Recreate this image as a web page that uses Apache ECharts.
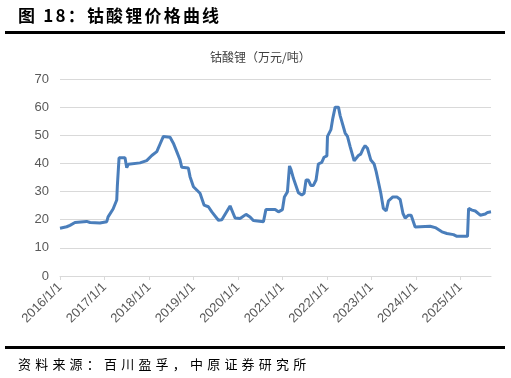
<!DOCTYPE html>
<html lang="zh">
<head>
<meta charset="UTF-8">
<title>钴酸锂价格曲线</title>
<script src="https://cdn.jsdelivr.net/npm/echarts@6/dist/echarts.min.js"></script>
<style>
  html, body { margin: 0; padding: 0; background: #fff; }
  #wrap { position: relative; width: 511px; height: 378px; }
  #main { position: absolute; left: 0; top: 0; width: 511px; height: 378px; }
  .txt { position: absolute; font-family: "Noto Sans CJK SC", sans-serif; color: #000; white-space: nowrap; }
  #head { left: 18px; top: 4px; font-size: 17px; font-weight: bold; letter-spacing: 2.2px; line-height: 22px; }
  #src { left: 18px; top: 355px; font-size: 13px; letter-spacing: 4.2px; line-height: 18px; }
</style>
</head>
<body>
<div id="wrap">
  <div id="main"></div>
  <div class="txt" id="head">图 18：钴酸锂价格曲线</div>
  <div class="txt" id="src">资料来源：百川盈孚，中原证券研究所</div>
</div>
<script type="text/javascript">
// price of lithium cobalt oxide, 万元/吨
var dates = [
  '2016-01-01','2016-02-25','2016-03-23','2016-05-03','2016-08-07','2016-09-04','2016-11-24',
  '2017-01-19','2017-01-30','2017-03-12','2017-04-11','2017-04-16','2017-04-30','2017-06-18',
  '2017-07-02','2017-07-15','2017-10-19','2017-12-13','2018-01-24','2018-03-06','2018-04-02',
  '2018-04-29','2018-06-23','2018-07-20','2018-08-17','2018-09-13','2018-09-27','2018-11-20',
  '2018-12-04','2019-01-01','2019-02-24','2019-03-29','2019-05-04','2019-06-01','2019-07-25',
  '2019-08-22','2019-10-29','2019-12-09','2020-01-19','2020-03-08','2020-04-10','2020-05-07',
  '2020-07-29','2020-08-18','2020-11-02','2020-11-29','2021-01-01','2021-01-17','2021-02-11',
  '2021-02-28','2021-03-13','2021-04-01','2021-05-12','2021-06-09','2021-06-28','2021-07-14',
  '2021-08-02','2021-08-22','2021-09-12','2021-10-04','2021-10-23','2021-11-20','2021-12-09',
  '2022-01-01','2022-01-06','2022-02-03','2022-02-19','2022-03-10','2022-04-06','2022-04-20',
  '2022-05-04','2022-05-31','2022-06-19','2022-07-11','2022-08-13','2022-08-29','2022-09-17',
  '2022-10-06','2022-10-28','2022-11-11','2022-11-30','2022-12-28','2023-01-24','2023-02-10',
  '2023-03-20','2023-04-10','2023-05-03','2023-05-22','2023-06-27','2023-07-30','2023-08-26',
  '2023-09-18','2023-10-06','2023-11-02','2023-11-24','2023-12-27','2024-04-28','2024-06-09',
  '2024-08-03','2024-09-13','2024-11-06','2024-12-04','2025-03-01','2025-03-10','2025-04-07',
  '2025-05-04','2025-06-14','2025-07-25','2025-08-13','2025-09-10'
];
var prices = [
  17.0, 17.5, 18.0, 19.0, 19.4, 19.0, 18.8,
  19.3, 21.0, 23.8, 27.0, 32.0, 42.0, 42.0,
  38.5, 39.7, 40.2, 41.0, 42.8, 44.2, 46.9,
  49.6, 49.3, 47.2, 44.2, 41.2, 38.6, 38.4,
  35.3, 31.7, 29.4, 25.2, 24.6, 22.8, 19.8,
  20.0, 24.9, 20.6, 20.4, 21.9, 21.0, 19.7,
  19.3, 23.6, 23.6, 22.8, 23.6, 28.1, 29.9,
  39.1, 37.7, 34.7, 29.6, 28.8, 29.4, 34.1,
  34.1, 32.2, 32.2, 34.1, 39.8, 40.4, 42.2,
  42.7, 49.6, 52.0, 56.1, 60.0, 60.0, 57.0,
  57.0, 50.8, 49.6, 46.0, 40.9, 40.9, 42.8,
  43.3, 45.4, 46.3, 45.4, 41.2, 39.8, 37.1,
  29.4, 24.0, 23.1, 26.7, 28.1, 28.1, 27.2,
  22.2, 20.6, 21.6, 21.6, 17.4, 17.7, 17.2,
  15.7, 15.1, 14.7, 14.1, 14.1, 24.0, 23.4,
  23.1, 21.6, 22.0, 22.6, 22.8
];
var yTicks = [0, 10, 20, 30, 40, 50, 60, 70];

var chart = echarts.init(document.getElementById('main'));

var seriesData = [];
for (var i = 0; i < dates.length; i++) {
  seriesData.push([dates[i], prices[i]]);
}

var DAY = 24 * 3600 * 1000;

var option = {
  backgroundColor: '#fff',
  animation: false,
  title: {
    text: '钴酸锂（万元/吨）',
    left: 205, top: 46,
    textStyle: { fontFamily: '"Noto Sans CJK SC", sans-serif', fontSize: 12, fontWeight: 'normal', color: '#404040' }
  },
  graphic: [
    { type: 'rect', shape: { x: 5, y: 31, width: 500, height: 3 }, style: { fill: '#000' } },
    { type: 'rect', shape: { x: 5, y: 346, width: 500, height: 3 }, style: { fill: '#000' } }
  ],
  grid: { left: 60, right: 20, top: 79, bottom: 102 },
  xAxis: {
    type: 'time',
    min: dates[0],
    max: dates[dates.length - 1],
    minInterval: 365 * DAY,
    maxInterval: 366 * DAY,
    axisLine: { lineStyle: { color: '#d9d9d9' } },
    axisTick: { show: true, length: 4, lineStyle: { color: '#d9d9d9' } },
    splitLine: { show: false },
    axisLabel: {
      rotate: 45,
      color: '#595959',
      fontSize: 13,
      fontFamily: 'Liberation Sans, Arial, sans-serif',
      margin: 9,
      formatter: '{yyyy}/{M}/{d}',
      showMaxLabel: false
    }
  },
  yAxis: {
    type: 'value',
    min: yTicks[0],
    max: yTicks[yTicks.length - 1],
    interval: 10,
    axisLine: { show: false },
    axisTick: { show: false },
    splitLine: { lineStyle: { color: '#d9d9d9' } },
    axisLabel: {
      color: '#595959',
      fontSize: 13,
      fontFamily: 'Liberation Sans, Arial, sans-serif',
      margin: 11
    }
  },
  series: [
    {
      name: '钴酸锂',
      type: 'line',
      data: seriesData,
      showSymbol: false,
      symbol: 'none',
      lineStyle: { color: '#4a7ebb', width: 3 },
      itemStyle: { color: '#4a7ebb' }
    }
  ]
};

chart.setOption(option);
</script>
</body>
</html>
